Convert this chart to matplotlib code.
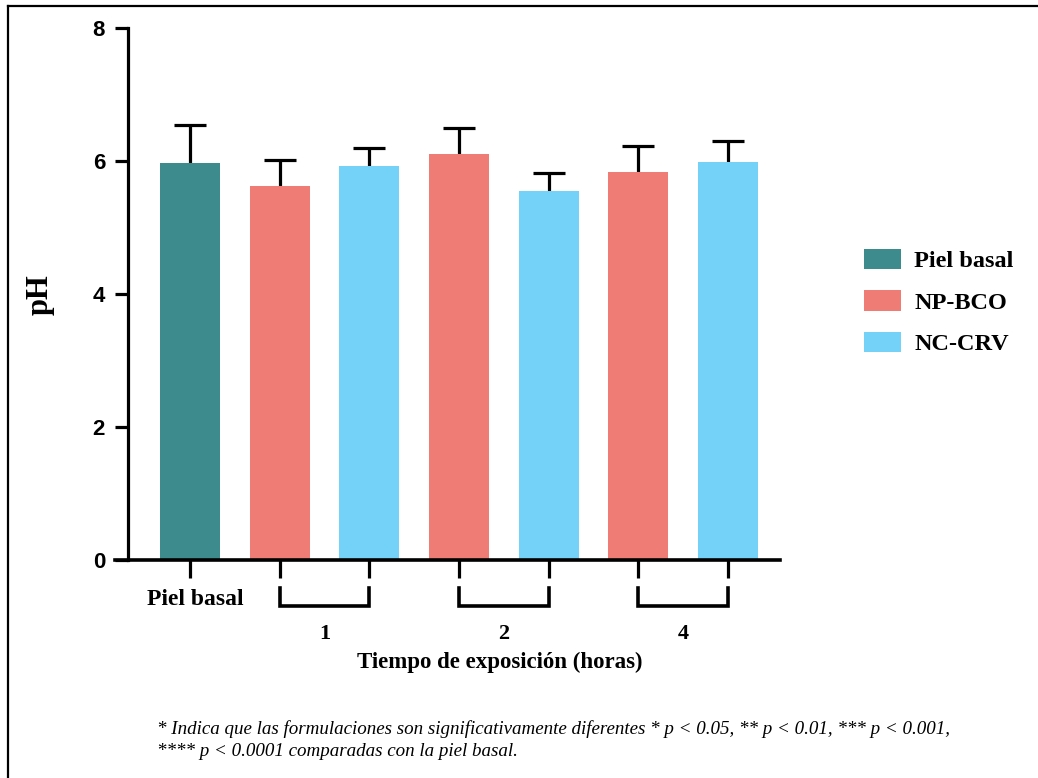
import matplotlib.pyplot as plt
from matplotlib.patches import Patch
from matplotlib.lines import Line2D
from matplotlib.transforms import blended_transform_factory

groups = ['Piel basal', 'NP-BCO', 'NC-CRV']
bar_groups = ['Piel basal', 'NP-BCO', 'NC-CRV', 'NP-BCO', 'NC-CRV', 'NP-BCO', 'NC-CRV']
ph_mean = [5.97, 5.62, 5.93, 6.11, 5.55, 5.83, 5.98]
ph_sd = [0.57, 0.40, 0.27, 0.39, 0.27, 0.40, 0.32]
hours = ['1', '2', '4']

colors = {'Piel basal': '#3D8B8D', 'NP-BCO': '#F07C76', 'NC-CRV': '#74D2F9'}
serif = 'Liberation Serif'
sans = 'Liberation Sans'

fig = plt.figure(figsize=(10.38, 7.78), dpi=100)
W, H = 1038, 778
ax = fig.add_axes([128 / W, 1 - 560 / H, 652 / W, 532 / H])

x = list(range(len(ph_mean)))
ax.bar(x, ph_mean, width=0.67, color=[colors[g] for g in bar_groups], zorder=2)
eb = ax.errorbar(x, ph_mean, yerr=[[0] * len(ph_sd), ph_sd], fmt='none', ecolor='black',
                 elinewidth=2.3, capsize=11.5, capthick=2.3, zorder=1)
# one-sided error bars: keep only the upper cap
for cap in eb[1]:
    if list(cap.get_ydata()) == ph_mean:
        cap.set_visible(False)

ax.set_ylim(0, 8)
ax.set_xlim(-0.69, 6.58)
ax.set_yticks([0, 2, 4, 6, 8])
ax.set_xticks(x)
ax.set_xticklabels([])
for s in ['top', 'right', 'bottom']:
    ax.spines[s].set_visible(False)
ax.spines['left'].set_linewidth(2.3)
ax.tick_params(axis='y', length=9.5, width=2.3, pad=7, labelsize=16, labelfontfamily=sans)
ax.tick_params(axis='x', length=13, width=2.3)
plt.setp(ax.get_yticklabels(), fontweight='bold')
# x axis line extending past the y axis
ax.axhline(0, xmin=-13 / 652, xmax=1, color='black', lw=2.6, clip_on=False, zorder=4)

# category labels and brackets under the axis
tr = blended_transform_factory(ax.transData, ax.transAxes)
ax.text(0.065, -0.075, 'Piel basal', transform=tr, ha='center', va='center',
        fontfamily=serif, fontweight='bold', fontsize=17)
y_top, y_bot = -0.052, -0.087
for i, h in enumerate(hours):
    a, b = 1 + 2 * i, 2 + 2 * i
    ax.plot([a, a, b, b], [y_top, y_bot, y_bot, y_top], transform=tr, color='black',
            lw=2.6, clip_on=False, solid_joinstyle='miter')
    ax.text((a + b) / 2, -0.139, h, transform=tr, ha='center', va='center',
            fontfamily=serif, fontweight='bold', fontsize=16)

fig.text(500 / W, 1 - 662 / H, 'Tiempo de exposición (horas)', ha='center', va='center',
         fontfamily=serif, fontweight='bold', fontsize=16.5)
fig.text(40 / W, 1 - 295 / H, 'pH', rotation=90, ha='center', va='center',
         fontfamily=serif, fontweight='bold', fontsize=22)

handles = [Patch(facecolor=colors[g], label=g) for g in groups]
fig.legend(handles=handles, loc='upper left', bbox_to_anchor=(864 / W, 1 - 249 / H),
           frameon=False, prop={'family': serif, 'weight': 'bold', 'size': 17.5},
           handlelength=1.52, handleheight=0.9, labelspacing=0.74, handletextpad=0.54,
           borderpad=0, borderaxespad=0)

foot1 = ('* Indica que las formulaciones son significativamente diferentes '
         '* p < 0.05, ** p < 0.01, *** p < 0.001,')
foot2 = '**** p < 0.0001 comparadas con la piel basal.'
fig.text(157 / W, 1 - 729 / H, foot1, ha='left', va='center', fontfamily=serif,
         fontstyle='italic', fontsize=13.7)
fig.text(157 / W, 1 - 751 / H, foot2, ha='left', va='center', fontfamily=serif,
         fontstyle='italic', fontsize=13.7)

# frame lines (left and top) of the original figure box
fig.add_artist(Line2D([8 / W, 8 / W], [0, 1 - 6 / H], color='black', lw=1.6))
fig.add_artist(Line2D([8 / W, 1], [1 - 6 / H, 1 - 6 / H], color='black', lw=1.6))

fig.savefig('out.png', dpi=100)
